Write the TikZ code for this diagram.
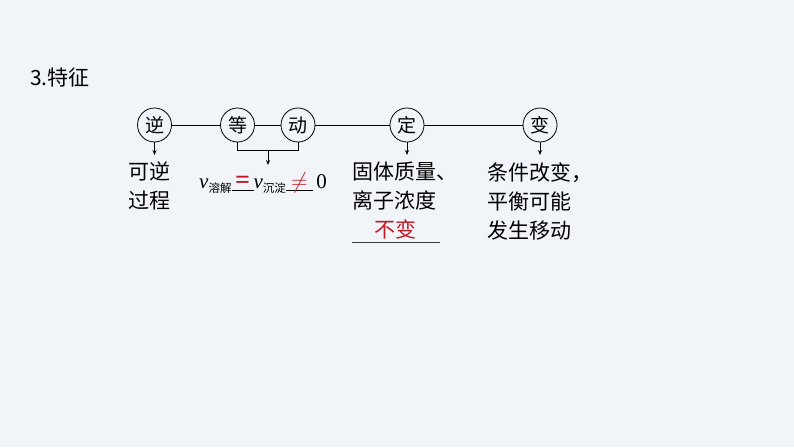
\documentclass[tikz,border=0pt]{standalone}
\usepackage{fontspec}
\usepackage{xcolor}
\usepackage{graphicx}
\newfontfamily\cjk{Noto Sans CJK SC}
\newfontfamily\tnr{Liberation Serif}
\usetikzlibrary{arrows.meta}
\definecolor{bgblue}{RGB}{241,245,250}
\definecolor{hlred}{RGB}{190,25,35}
\definecolor{ulgray}{RGB}{60,60,60}
\newcommand{\blankfill}[2]{\rlap{\rule[-3pt]{#1}{0.7pt}}\makebox[#1]{#2}}
\newcommand{\subcjk}[1]{\raisebox{-4pt}{\cjk\fontsize{11.5}{12}\selectfont #1}}
\begin{document}
\begin{tikzpicture}[x=1pt,y=-1pt,
  feat/.style={circle,draw,line width=0.8pt,minimum size=34pt,inner sep=0pt,font=\cjk\fontsize{19}{19}\selectfont},
  desc/.style={font=\cjk\fontsize{21}{29}\selectfont,align=left,inner sep=0pt,anchor=north west},
  conn/.style={line width=0.8pt},
  arr/.style={line width=0.8pt,-{Stealth[length=5pt,width=4pt]}}]
\fill[bgblue] (0,0) rectangle (794,447);
\useasboundingbox (0,0) rectangle (794,447);
\node[font=\cjk\fontsize{21}{21}\selectfont,anchor=west,inner sep=0pt] (title) at (30,78) {3.特征};
\node[feat] (ni) at (154.5,125) {逆};
\node[feat] (deng) at (237.5,125) {等};
\node[feat] (dong) at (298,125) {动};
\node[feat] (ding) at (407,125) {定};
\node[feat] (bian) at (540,125) {变};
\draw[conn] (ni) -- (deng);
\draw[conn] (deng) -- (dong);
\draw[conn] (dong) -- (ding);
\draw[conn] (ding) -- (bian);
% arrows
\coordinate (niend) at (154.5,155);
\draw[arr] (ni.south) -- (niend);
\coordinate (dingend) at (407,155);
\draw[arr] (ding.south) -- (dingend);
\coordinate (bianend) at (540,155);
\draw[arr] (bian.south) -- (bianend);
% bracket
\coordinate (bl) at (237.5,150);
\coordinate (br) at (298,150);
\coordinate (bm) at (268,150);
\coordinate (bmend) at (268,165);
\draw[conn] (deng.south) -- (bl) -- (br) -- (dong.south);
\draw[arr] (bm) -- (bmend);
% texts
\node[desc] (t1) at (128,162) {可逆\\过程};
\node[font=\tnr\fontsize{21}{24}\selectfont,inner sep=0pt,anchor=base west] (f) at (199,188)
  {\textit{v}\subcjk{溶解}\blankfill{22pt}{\scalebox{1.25}{\textcolor{hlred}{\textbf{=}}}}\textit{v}\subcjk{沉淀}\blankfill{27pt}{\scalebox{1.1}{\textcolor{hlred}{$\neq$}}}\,0};
\node[desc] (t2) at (352,162) {固体质量、\\离子浓度};
\node[font=\cjk\fontsize{21}{21}\selectfont,text=hlred,inner sep=0pt] (t2b) at (395,229) {不变};
\coordinate (ul1) at (352,242);
\coordinate (ul2) at (440,242);
\draw[ulgray,line width=1pt] (ul1) -- (ul2);
\node[desc] (t3) at (487,162) {条件改变，\\平衡可能\\发生移动};
\end{tikzpicture}
\end{document}
